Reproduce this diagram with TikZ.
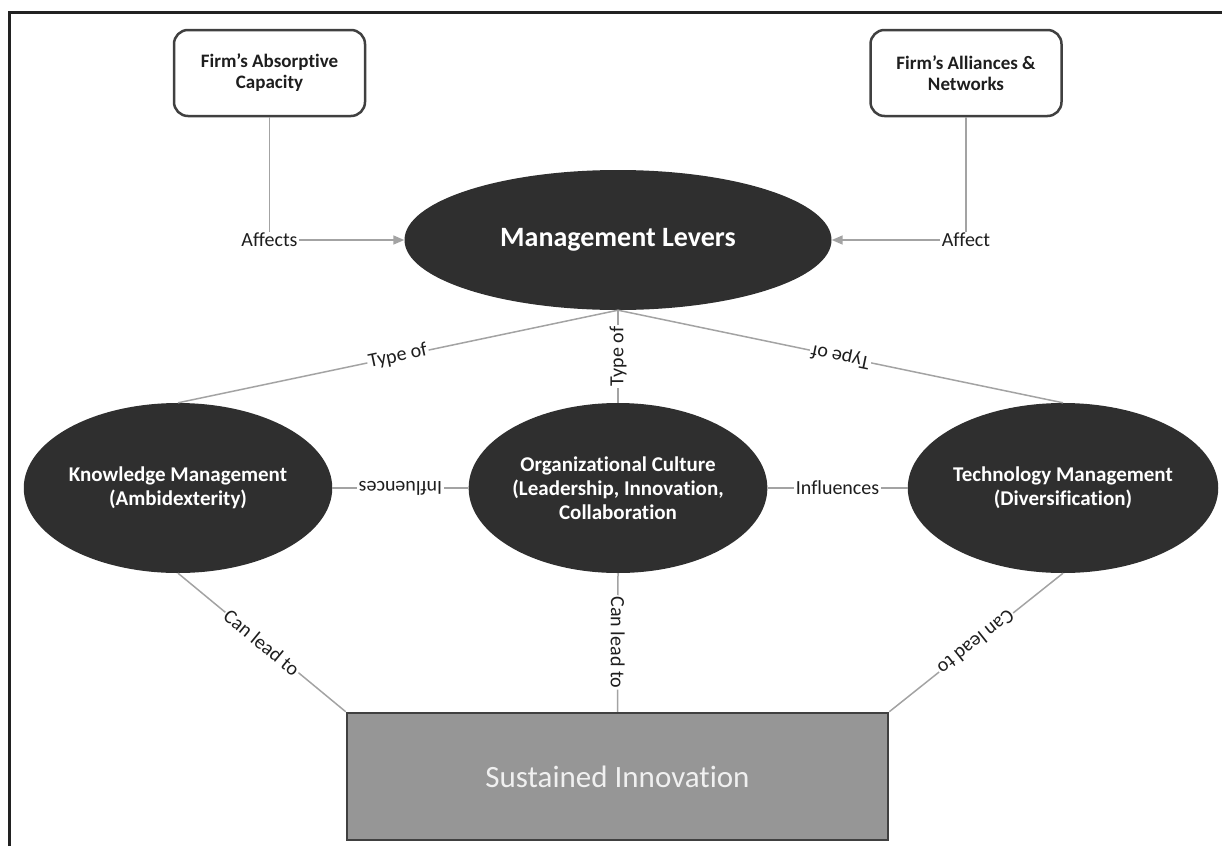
\documentclass[tikz,border=0pt]{standalone}
\usepackage{fontspec}
\setmainfont{Carlito}[Ligatures=NoCommon]
\usetikzlibrary{shapes.geometric,arrows.meta}
\definecolor{ellfill}{HTML}{2F2F2F}
\definecolor{linegray}{HTML}{A3A3A3}
\definecolor{boxgray}{HTML}{969696}
\definecolor{boxborder}{HTML}{404040}
\definecolor{txt}{HTML}{1E1E1E}
\definecolor{framecol}{HTML}{222222}
\begin{document}
\begin{tikzpicture}[x=1pt,y=-1pt,
  lev/.style={ellipse, fill=ellfill, text=white, inner sep=0pt, align=center,
    font=\bfseries\fontsize{21}{24}\selectfont},
  sbox/.style={draw=boxborder, line width=2.5pt, rounded corners=14pt, fill=white,
    minimum width=191pt, minimum height=86pt, align=center, text=txt,
    font=\bfseries\fontsize{19}{21}\selectfont},
  conn/.style={draw=linegray, line width=1.5pt},
  tip/.style={-{Triangle[length=11pt,width=9pt]}},
  lbl/.style={fill=white, inner sep=1.5pt, text=txt, font=\fontsize{20}{22}\selectfont}
]
\useasboundingbox (0,0) rectangle (1222,846);
% frame
\draw[framecol, line width=3pt] (9,846) -- (9,12) -- (1222,12);

% nodes
\node[sbox] (AC) at (269.5,73) {Firm’s Absorptive\\Capacity};
\node[sbox] (AN) at (966,73) {Firm’s Alliances \&\\Networks};
\node[lev, minimum width=427pt, minimum height=140pt,
  font=\bfseries\fontsize{28}{32}\selectfont] (ML) at (618,240) {Management Levers};
\node[lev, minimum width=284pt, minimum height=170pt] (KM) at (178,488)
  {Knowledge Management\\(Ambidexterity)};
\node[lev, minimum width=288pt, minimum height=170pt] (OC) at (618,488)
  {Organizational Culture\\(Leadership, Innovation,\\Collaboration};
\node[lev, minimum width=290pt, minimum height=170pt] (TM) at (1063,488)
  {Technology Management\\(Diversification)};
\node[draw=boxborder, line width=2.5pt, fill=boxgray, minimum width=541pt,
  minimum height=127pt, text=white!94!black,
  font=\fontsize{31}{34}\selectfont] (SI) at (617.5,776.5) {Sustained Innovation};

% connectors
\draw[conn,tip] (AC.south) |- node[lbl,pos=0.5] {Affects} (ML.west);
\draw[conn,tip] (AN.south) |- node[lbl,pos=0.5] {Affect} (ML.east);

\draw[conn] (ML.south) -- node[lbl,sloped] {Type of} (KM.north);
\draw[conn] (OC.north) -- node[lbl,sloped,allow upside down] {Type of} (ML.south);
\draw[conn] (TM.north) -- node[lbl,sloped,allow upside down] {Type of} (ML.south);

\draw[conn] (OC.west) -- node[lbl,sloped,allow upside down] {Influences} (KM.east);
\draw[conn] (OC.east) -- node[lbl,sloped] {Influences} (TM.west);

\draw[conn] (KM.south) -- node[lbl,sloped] {Can lead to} (SI.north west);
\draw[conn] (OC.south) -- node[lbl,sloped,allow upside down] {Can lead to} (SI.north);
\draw[conn] (TM.south) -- node[lbl,sloped,allow upside down] {Can lead to} (SI.north east);
\end{tikzpicture}
\end{document}
